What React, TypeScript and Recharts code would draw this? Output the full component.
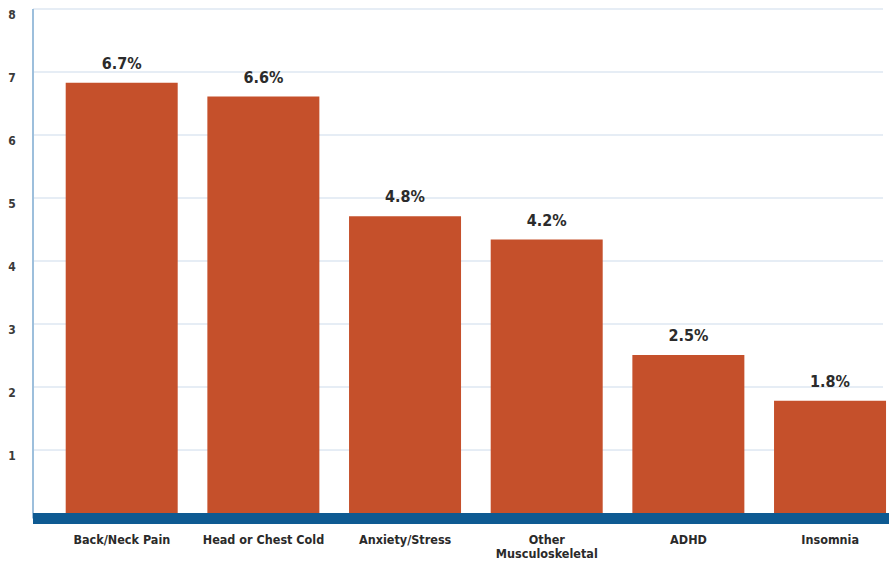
import { Bar, BarChart, CartesianGrid, LabelList, XAxis, YAxis } from "recharts";

const categories = ["Back/Neck Pain", "Head or Chest Cold", "Anxiety/Stress", "Other\nMusculoskeletal", "ADHD", "Insomnia"];
const values = [6.83, 6.61, 4.71, 4.34, 2.51, 1.78];
const valueLabels = ["6.7%", "6.6%", "4.8%", "4.2%", "2.5%", "1.8%"];
const yTicks = [1, 2, 3, 4, 5, 6, 7, 8];

const data = categories.map((name, i) => ({ name, value: values[i], label: valueLabels[i] }));

const FONT = "'DejaVu Sans Condensed', 'Liberation Sans Narrow', Arial, sans-serif";

function XTick({ x, y, payload }: any) {
  const lines = String(payload.value).split("\n");
  return (
    <g>
      {lines.map((line: string, i: number) => (
        <text
          key={i}
          x={x}
          y={y + 17 + i * 14}
          textAnchor="middle"
          fontFamily={FONT}
          fontWeight={700}
          fontSize={12.5}
          fill="#2a2a2a"
        >
          {line}
        </text>
      ))}
    </g>
  );
}

function YTick({ y, payload }: any) {
  return (
    <text x={12} y={y + 10} textAnchor="middle" fontFamily={FONT} fontWeight={700} fontSize={12} fill="#3a3a3a">
      {payload.value}
    </text>
  );
}

function ValueLabel({ x, y, width, value }: any) {
  return (
    <text
      x={x + width / 2}
      y={y - 14}
      textAnchor="middle"
      fontFamily={FONT}
      fontWeight={700}
      fontSize={16}
      fill="#2b2b2b"
    >
      {value}
    </text>
  );
}

export default function App() {
  return (
    <div style={{ position: "fixed", left: 0, top: 0, width: 889, height: 563, overflow: "hidden", background: "#fff" }}>
      <BarChart
        width={901}
        height={563}
        data={data}
        margin={{ top: 9, right: 0, left: 0, bottom: 0 }}
        barCategoryGap={14.7}
      >
        <CartesianGrid horizontal vertical={false} stroke="#cddbeb" strokeWidth={1} x={33} width={850} />
        <YAxis
          type="number"
          domain={[-0.087, 8]}
          ticks={yTicks}
          width={33}
          axisLine={{ stroke: "#9dbfdc", strokeWidth: 2 }}
          tickLine={false}
          tick={<YTick />}
          allowDataOverflow
        />
        <XAxis
          dataKey="name"
          axisLine={{ stroke: "#0e5a92", strokeWidth: 11 }}
          tickLine={false}
          tick={<XTick />}
          interval={0}
          padding={{ left: 18, right: 0 }}
          height={44.5}
        />
        <Bar dataKey="value" fill="#c5502b" isAnimationActive={false}>
          <LabelList dataKey="label" content={<ValueLabel />} />
        </Bar>
      </BarChart>
    </div>
  );
}
